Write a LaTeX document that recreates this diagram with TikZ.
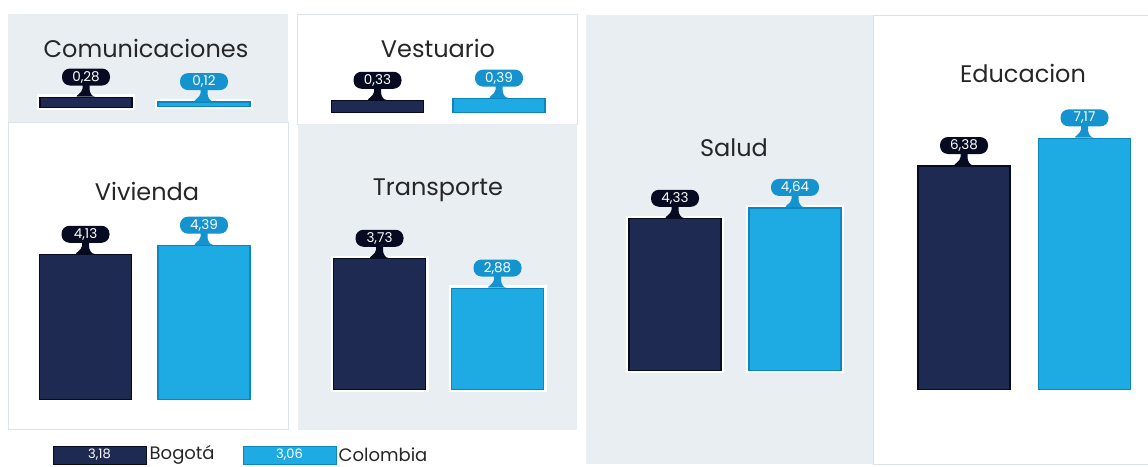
\documentclass[tikz,border=0pt]{standalone}
\usepackage{fontspec}
\setmainfont{Poppins}
\usetikzlibrary{positioning,calc}

\definecolor{navy}{HTML}{1F2A52}
\definecolor{navyedge}{HTML}{070B22}
\definecolor{navytag}{HTML}{070B22}
\definecolor{sky}{HTML}{1EABE3}
\definecolor{skyedge}{HTML}{0B86BF}
\definecolor{skytag}{HTML}{1593CF}
\definecolor{panelgrey}{HTML}{E8EEF2}
\definecolor{paneledge}{HTML}{DCE3E8}

\tikzset{
  title/.style={font=\fontsize{24}{24}\selectfont, text=black!85},
  barbox/.style={fill=#1, draw=#1edge, line width=1.5pt, minimum width=92pt,
    inner sep=0pt, preaction={draw=white, line width=6pt}},
  tagbox/.style={fill=#1tag, text=white, rounded corners=8pt, minimum width=48pt,
    minimum height=17pt, inner sep=0pt, font=\fontsize{13.5}{13.5}\selectfont},
  legbox/.style={fill=#1, draw=#1edge, line width=1pt, text=white, minimum width=93pt,
    minimum height=18pt, inner sep=0pt, font=\fontsize{13}{13}\selectfont},
  legtext/.style={font=\fontsize{18}{18}\selectfont, text=black!85, inner sep=0pt}
}

% name, x, bottom, height value, label, colour
\newcommand{\valbar}[6]{%
  \node[barbox=#6, minimum height=#4*35pt, anchor=south] (#1) at (#2,#3) {};
  \node[tagbox=#6, above=11pt of #1] (#1-tag) {#5};
  \fill[#6tag] ($(#1-tag.south)+(-3.5pt,1pt)$) -- ++(0,-4pt)
    .. controls +(0,-4pt) and +(-3pt,0) .. ($(#1.north)+(-9pt,0)$)
    -- ($(#1.north)+(9pt,0)$)
    .. controls +(-3pt,0) and +(0,-4pt) .. ($(#1-tag.south)+(3.5pt,-3pt)$)
    -- ($(#1-tag.south)+(3.5pt,1pt)$) -- cycle;
}

\begin{document}
\begin{tikzpicture}[x=1pt,y=-1pt]
\useasboundingbox (0,0) rectangle (1148,466);

% panels
\fill[panelgrey] (8,14) rectangle (288,122);
\draw[paneledge, fill=white] (8,122) rectangle (288,429);
\draw[paneledge, fill=white] (297,14) rectangle (577,124);
\fill[panelgrey] (298,124) rectangle (577,430);
\fill[panelgrey] (586,15) rectangle (873,464);
\draw[paneledge] (1148,15) -- (873,15) -- (873,464) -- (1148,464);

% titles
\node[title] (comtitle) at (146,48) {Comunicaciones};
\node[title] (vestitle) at (438,48) {Vestuario};
\node[title] (vivtitle) at (147,191) {Vivienda};
\node[title] (tratitle) at (438,190) {Transporte};
\node[title] (saltitle) at (734,148) {Salud};
\node[title] (edutitle) at (1023,73) {Educacion};

% bars
\valbar{comb}{86}{108}{0.28}{0,28}{navy}
\valbar{comc}{204}{107}{0.12}{0,12}{sky}
\valbar{vesb}{377.5}{113}{0.33}{0,33}{navy}
\valbar{vesc}{499}{113}{0.39}{0,39}{sky}
\valbar{vivb}{85.5}{400}{4.13}{4,13}{navy}
\valbar{vivc}{204}{400}{4.39}{4,39}{sky}
\valbar{trab}{379.5}{390}{3.73}{3,73}{navy}
\valbar{trac}{497.5}{390}{2.88}{2,88}{sky}
\valbar{salb}{675}{371}{4.33}{4,33}{navy}
\valbar{salc}{795}{371}{4.64}{4,64}{sky}
\valbar{edub}{964}{390}{6.38}{6,38}{navy}
\valbar{educ}{1084.5}{390}{7.17}{7,17}{sky}

% legend
\node[legbox=navy] (legb) at (99.5,455) {3,18};
\node[legtext, right=3pt of legb] (legbtext) {Bogotá};
\node[legbox=sky] (legc) at (289.5,455) {3,06};
\node[legtext, right=2pt of legc] (legctext) {Colombia};
\end{tikzpicture}
\end{document}
